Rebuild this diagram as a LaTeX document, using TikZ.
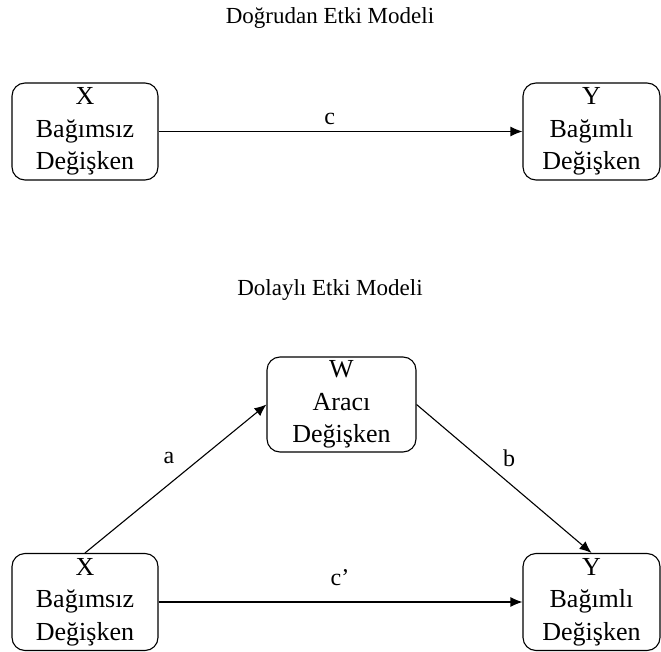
\documentclass[tikz,border=0pt]{standalone}
\usepackage{fontspec}
\setmainfont{Liberation Serif}
\usetikzlibrary{arrows.meta}

\begin{document}
\begin{tikzpicture}[x=1pt, y=-1pt,
  var/.style = {draw, rounded corners=13pt, line width=1.1pt, align=center,
                minimum height=97pt, inner sep=0pt,
                font=\fontsize{26}{32.5}\selectfont},
  lbl/.style = {font=\fontsize{24}{28}\selectfont},
  path/.style = {line width=1.1pt, -{Latex[length=12pt, width=10pt]}}]
\useasboundingbox (0,0) rectangle (661,652);
% dogrudan etki
\node[lbl, font=\fontsize{23}{28}\selectfont] (t1) at (330,18) {Doğrudan Etki Modeli};
\node[var, minimum width=146pt] (x1) at (85,131.5) {X\\Bağımsız\\Değişken};
\node[var, minimum width=137pt] (y1) at (591.5,131.5) {Y\\Bağımlı\\Değişken};
\draw[path] (x1) -- (y1) node[lbl, pos=0.47, above=3pt] (c) {c};
% dolayli etki
\node[lbl, font=\fontsize{23}{28}\selectfont] (t2) at (330,290) {Dolaylı Etki Modeli};
\node[var, minimum width=149pt, minimum height=95pt] (w) at (341.5,404.5) {W\\Aracı\\Değişken};
\node[var, minimum width=146pt] (x2) at (85,602) {X\\Bağımsız\\Değişken};
\node[var, minimum width=137pt] (y2) at (591.5,602) {Y\\Bağımlı\\Değişken};
\draw[path] (x2.north) -- (w.west);
\draw[path] (w.east) -- (y2.north);
\draw[path] (x2) -- (y2);
\node[lbl] (a) at (169,458) {a};
\node[lbl] (b) at (509,458) {b};
\node[lbl] (cp) at (340,578) {c’};
\end{tikzpicture}
\end{document}
